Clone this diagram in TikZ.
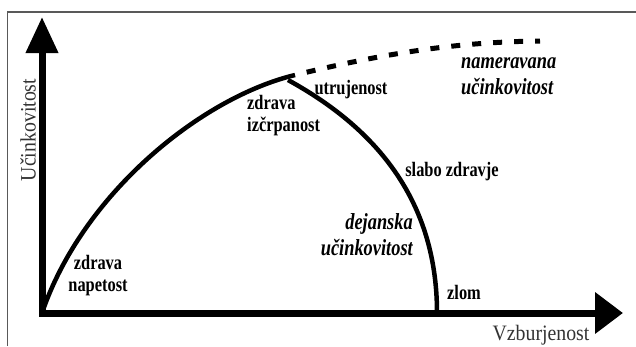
\documentclass[tikz,border=0pt]{standalone}
\usepackage{fontspec}
\setmainfont{Liberation Serif}
\newfontfamily\lblfont[FakeStretch=0.8]{Liberation Serif}
\newfontfamily\axfont[FakeStretch=0.9]{Liberation Serif}
\usetikzlibrary{arrows.meta,positioning}

\begin{document}
\begin{tikzpicture}[x=1pt,y=-1pt,
    lbl/.style={font=\lblfont\bfseries\fontsize{20.5}{22}\selectfont, inner sep=0pt},
    lblit/.style={font=\lblfont\bfseries\itshape\fontsize{23}{26}\selectfont, inner sep=0pt},
    axlbl/.style={font=\axfont\fontsize{22}{24}\selectfont, text=black!80, inner sep=0pt},
    curve/.style={line width=4.5pt}]
  %
  \useasboundingbox (0,0) rectangle (636,346);
  %
  \coordinate (fb) at (7.5,346);
  \coordinate (fc) at (7.5,12);
  \coordinate (fr) at (636,12);
  %
  \coordinate (o) at (42,313);
  \coordinate (ytip) at (42,17);
  \coordinate (xtip) at (623,313);
  \coordinate (peak) at (295,75);
  \coordinate (fork) at (288,80);
  \coordinate (brk) at (437,313);
  \coordinate (aim) at (540,41);
  %
  \draw[line width=1.5pt, black!65] (fb) -- (fc) -- (fr);
  %
  \draw[line width=7pt, {Triangle[length=36pt,width=31pt]}-{Triangle[length=28pt,width=40pt]}]
    (ytip) -- (o) -- (xtip);
  %
  \draw[curve] (o) .. controls (82,195) and (200,98) .. (peak);
  \draw[curve] (fork) .. controls (370,125) and (437,195) .. (brk);
  \draw[curve, line width=5pt, dash pattern=on 9pt off 12pt, dash phase=9pt]
    (peak) .. controls (390,52) and (460,42) .. (aim);
  %
  \node[lbl, align=center] (napetost) at (98,276) {zdrava\\napetost};
  \node[lbl, align=left, anchor=west] (izcrp) at (247,116) {zdrava\\izčrpanost};
  \node[lbl] (utruj) at (351,90) {utrujenost};
  \node[lbl] (slabo) at (452,172) {slabo zdravje};
  \node[lbl] (zlom) at (464,292) {zlom};
  \node[lblit, align=left, anchor=west] (namer) at (461,76) {nameravana\\učinkovitost};
  \node[lblit, align=right, anchor=east] (dejan) at (413,235) {dejanska\\učinkovitost};
  %
  \node[axlbl] (xlbl) at (541,335) {Vzburjenost};
  \node[axlbl, rotate=90] (ylbl) at (28,130) {Učinkovitost};
  %
\end{tikzpicture}
\end{document}
